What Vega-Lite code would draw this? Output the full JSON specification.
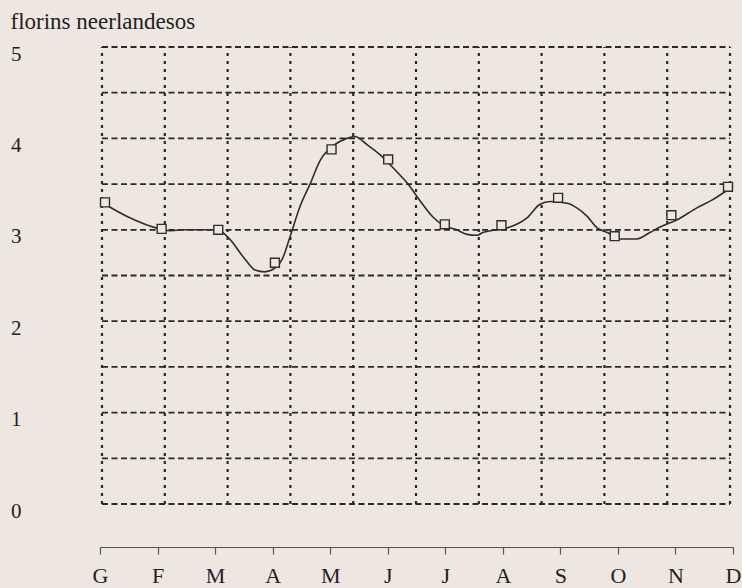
{
  "$schema": "https://vega.github.io/schema/vega-lite/v6.json",
  "width": 628,
  "height": 457,
  "autosize": {"type": "none"},
  "padding": {"left": 102, "top": 47, "right": 12, "bottom": 84},
  "background": "#eee6e0",
  "config": {
    "view": {"stroke": null},
    "font": "Liberation Serif",
    "axisY": {
      "titleAngle": 0, "titleX": -92, "titleY": -19,
      "titleAlign": "left", "titleBaseline": "alphabetic",
      "titleFont": "Liberation Serif", "titleFontSize": 23,
      "titleFontWeight": "normal", "titleColor": "#222",
      "labelFont": "Liberation Serif", "labelFontSize": 21, "labelColor": "#222",
      "labelPadding": 81, "labelOffset": 7,
      "ticks": false, "tickSize": 0, "domain": false, "grid": false
    }
  },
  "datasets": {
    "punts": [
      {"m": 0, "v": 3.3}, {"m": 1, "v": 3.01}, {"m": 2, "v": 3.0}, {"m": 3, "v": 2.64},
      {"m": 4, "v": 3.88}, {"m": 5, "v": 3.77}, {"m": 6, "v": 3.06}, {"m": 7, "v": 3.05},
      {"m": 8, "v": 3.35}, {"m": 9, "v": 2.93}, {"m": 10, "v": 3.16}, {"m": 11, "v": 3.47}
    ],
    "corba": [
      {"m": 0.0, "v": 3.28}, {"m": 0.41, "v": 3.14}, {"m": 0.97, "v": 3.01}, {"m": 1.18, "v": 2.99},
      {"m": 1.36, "v": 3.0}, {"m": 1.98, "v": 3.0}, {"m": 2.17, "v": 2.92}, {"m": 2.47, "v": 2.68},
      {"m": 2.65, "v": 2.56}, {"m": 2.82, "v": 2.54}, {"m": 3.0, "v": 2.58}, {"m": 3.13, "v": 2.68},
      {"m": 3.27, "v": 2.93}, {"m": 3.44, "v": 3.25}, {"m": 3.62, "v": 3.5}, {"m": 3.8, "v": 3.76},
      {"m": 4.03, "v": 3.92}, {"m": 4.27, "v": 4.0}, {"m": 4.41, "v": 4.02}, {"m": 4.63, "v": 3.93},
      {"m": 4.86, "v": 3.82}, {"m": 5.16, "v": 3.63}, {"m": 5.35, "v": 3.5}, {"m": 5.56, "v": 3.32},
      {"m": 5.79, "v": 3.14}, {"m": 5.97, "v": 3.05}, {"m": 6.21, "v": 3.0}, {"m": 6.39, "v": 2.95},
      {"m": 6.57, "v": 2.94}, {"m": 6.67, "v": 2.97}, {"m": 6.92, "v": 3.0}, {"m": 7.15, "v": 3.03},
      {"m": 7.45, "v": 3.13}, {"m": 7.68, "v": 3.28}, {"m": 7.86, "v": 3.31}, {"m": 8.16, "v": 3.29},
      {"m": 8.33, "v": 3.24}, {"m": 8.51, "v": 3.15}, {"m": 8.69, "v": 3.02}, {"m": 8.87, "v": 2.97},
      {"m": 9.09, "v": 2.9}, {"m": 9.39, "v": 2.9}, {"m": 9.62, "v": 2.97}, {"m": 9.8, "v": 3.03},
      {"m": 10.1, "v": 3.11}, {"m": 10.45, "v": 3.24}, {"m": 10.73, "v": 3.33}, {"m": 10.98, "v": 3.43}
    ],
    "nivells": [
      {"v": 0}, {"v": 0.5}, {"v": 1}, {"v": 1.5}, {"v": 2}, {"v": 2.5},
      {"v": 3}, {"v": 3.5}, {"v": 4}, {"v": 4.5}, {"v": 5}
    ],
    "columnes": [
      {"c": 0}, {"c": 1}, {"c": 2}, {"c": 3}, {"c": 4}, {"c": 5},
      {"c": 6}, {"c": 7}, {"c": 8}, {"c": 9}, {"c": 10}
    ]
  },
  "layer": [
    {
      "layer": [
        {
          "data": {"name": "nivells"},
          "mark": {"type": "rule", "color": "#2a2a2a", "strokeWidth": 1.8, "strokeDash": [6, 3.5]},
          "encoding": {
            "x": {"datum": 0, "type": "quantitative", "scale": {"domain": [0, 10]}, "axis": null},
            "x2": {"datum": 10},
            "y": {"field": "v", "type": "quantitative", "scale": {"domain": [0, 5], "nice": false}, "axis": {"title": "florins neerlandesos", "values": [0, 1, 2, 3, 4, 5], "format": "d"}}
          }
        },
        {
          "data": {"name": "columnes"},
          "mark": {"type": "rule", "color": "#2a2a2a", "strokeWidth": 2.2, "strokeDash": [3, 5]},
          "encoding": {
            "x": {"field": "c", "type": "quantitative", "scale": {"domain": [0, 10]}, "axis": null},
            "y": {"datum": 0, "type": "quantitative", "scale": {"domain": [0, 5], "nice": false}, "axis": {"title": "florins neerlandesos", "values": [0, 1, 2, 3, 4, 5], "format": "d"}},
            "y2": {"datum": 5}
          }
        }
      ]
    },
    {
      "layer": [
        {
          "data": {"name": "corba"},
          "mark": {"type": "line", "interpolate": "monotone", "color": "#2e2e2e", "strokeWidth": 1.6},
          "encoding": {
            "x": {"field": "m", "type": "quantitative", "scale": {"domain": [0, 11], "range": [3, 626]}, "axis": null},
            "y": {"field": "v", "type": "quantitative", "scale": {"domain": [0, 5], "nice": false}, "axis": {"title": "florins neerlandesos", "values": [0, 1, 2, 3, 4, 5], "format": "d"}}
          }
        },
        {
          "data": {"name": "punts"},
          "mark": {"type": "point", "shape": "square", "size": 80, "filled": true, "fill": "#eee6e0", "stroke": "#2e2e2e", "strokeWidth": 1.4, "opacity": 1},
          "encoding": {
            "x": {"field": "m", "type": "quantitative", "axis": null},
            "y": {"field": "v", "type": "quantitative", "scale": {"domain": [0, 5], "nice": false}, "axis": {"title": "florins neerlandesos", "values": [0, 1, 2, 3, 4, 5], "format": "d"}}
          }
        }
      ]
    },
    {
      "data": {"name": "punts"},
      "mark": {"type": "point", "opacity": 0},
      "encoding": {
        "x": {
          "field": "m", "type": "quantitative",
          "scale": {"domain": [0, 11], "range": [-2, 631]},
          "axis": {
            "orient": "bottom", "offset": 43,
            "values": [0, 1, 2, 3, 4, 5, 6, 7, 8, 9, 10, 11],
            "labelExpr": "['G','F','M','A','M','J','J','A','S','O','N','D'][datum.value]",
            "title": null, "grid": false,
            "domainColor": "#555", "domainWidth": 1.2,
            "tickColor": "#555", "tickWidth": 1.2, "tickSize": 7,
            "labelFont": "Liberation Serif", "labelFontSize": 22, "labelColor": "#222",
            "labelPadding": 11, "labelFlush": false, "labelOverlap": false
          }
        },
        "y": {"field": "v", "type": "quantitative", "scale": {"domain": [0, 5], "nice": false}, "axis": {"title": "florins neerlandesos", "values": [0, 1, 2, 3, 4, 5], "format": "d"}}
      }
    }
  ],
  "resolve": {"scale": {"x": "independent"}}
}
